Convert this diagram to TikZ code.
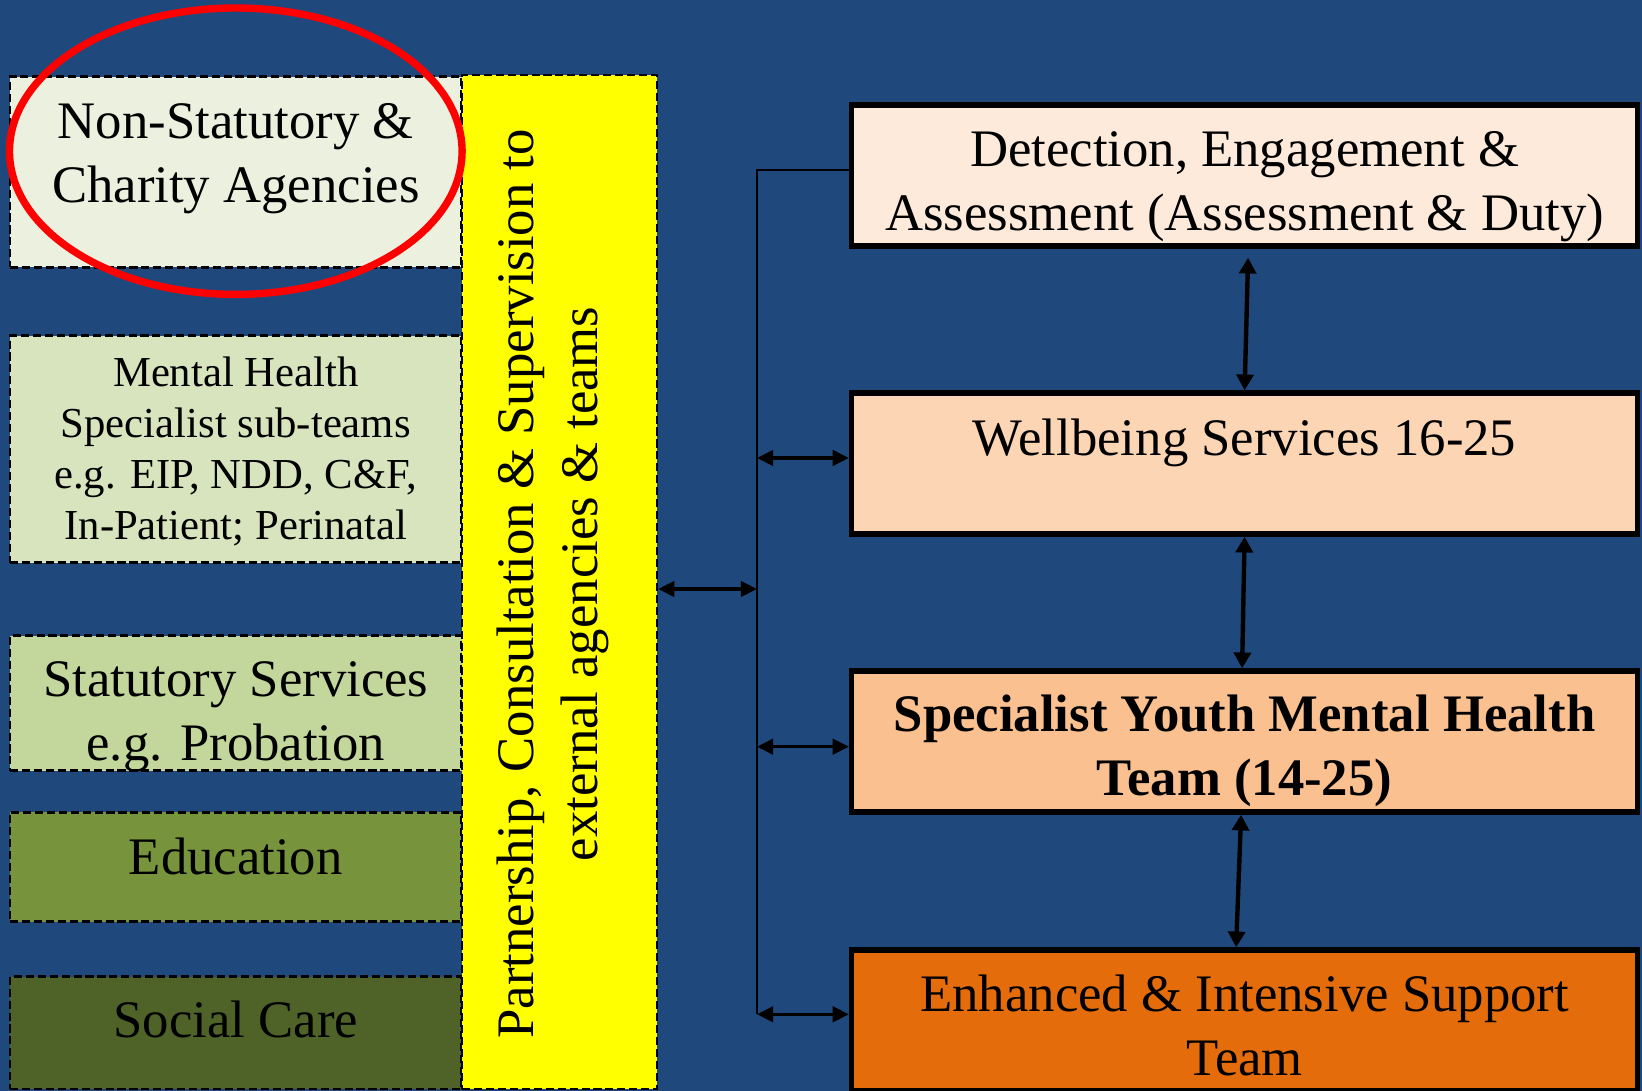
\documentclass[tikz,border=0pt]{standalone}
\usepackage{fontspec}
\setmainfont{Liberation Serif}
\usepackage{tikz}
\usetikzlibrary{arrows.meta}
\definecolor{ymhBack}{HTML}{1F497D}
\definecolor{ymhOliveA}{HTML}{EBF1DE}
\definecolor{ymhOliveB}{HTML}{D7E4BD}
\definecolor{ymhOliveC}{HTML}{C3D69B}
\definecolor{ymhOliveD}{HTML}{77933C}
\definecolor{ymhOliveE}{HTML}{4F6228}
\definecolor{ymhBand}{HTML}{FFFF00}
\definecolor{ymhOrangeA}{HTML}{FDEADA}
\definecolor{ymhOrangeB}{HTML}{FCD5B5}
\definecolor{ymhOrangeC}{HTML}{FAC090}
\definecolor{ymhOrangeD}{HTML}{E46C0A}
\definecolor{ymhRing}{HTML}{FF0000}
\tikzset{
  ymh diagram/.style={font=\fontsize{15}{18.2}\selectfont, text=black},
  ymh agency/.style={draw=black, line width=0.7pt, dash pattern=on 2.3pt off 1.1pt,
    minimum width=4.517cm, inner sep=0pt},
  ymh band/.style={ymh agency, fill=ymhBand, minimum width=1.95cm, minimum height=10.14cm},
  ymh team/.style={draw=black, line width=1.5pt, minimum width=7.862cm,
    minimum height=1.41cm, inner sep=0pt},
  ymh text/.style={align=center, inner sep=0pt},
  ymh small/.style={ymh text, font=\fontsize{12.15}{14.5}\selectfont},
  ymh bold/.style={ymh text, font=\fontsize{15}{18.2}\selectfont\bfseries},
  ymh bus/.style={draw=black, line width=0.65pt},
  ymh link/.style={{Triangle[length=4.6pt,width=4.4pt]}-{Triangle[length=4.6pt,width=4.4pt]},
    draw=black, line width=0.9pt},
  ymh step link/.style={{Triangle[length=4.5pt,width=4.8pt]}-{Triangle[length=4.5pt,width=4.8pt]},
    draw=black, line width=1.25pt},
  ymh ring/.style={draw=ymhRing, line width=2.1pt}
}

\begin{document}
\begin{tikzpicture}[ymh diagram]
\useasboundingbox (0,0) rectangle (16.42,10.91);
\fill[ymhBack] (0,0) rectangle (16.42,10.91);

% agencies down the left
\node[ymh agency, fill=ymhOliveA, minimum height=1.906cm] (nonstat) at (2.358,9.19) {};
\node[ymh text] (nonstat-t) at ([yshift=0.138cm]nonstat.center) {Non-Statutory \&\\Charity Agencies};
\node[ymh agency, fill=ymhOliveB, minimum height=2.27cm] (mh) at (2.358,6.418) {};
\node[ymh small] (mh-t) at ([yshift=-0.026cm]mh.center) {Mental Health\\Specialist sub-teams\\e.g. EIP, NDD, C\&F,\\In-Patient; Perinatal};
\node[ymh agency, fill=ymhOliveC, minimum height=1.35cm] (stat) at (2.358,3.878) {};
\node[ymh text] (stat-t) at ([yshift=-0.131cm]stat.center) {Statutory Services\\e.g. Probation};
\node[ymh agency, fill=ymhOliveD, minimum height=1.094cm] (edu) at (2.358,2.24) {};
\node[ymh text] (edu-t) at ([yshift=0.108cm]edu.center) {Education};
\node[ymh agency, fill=ymhOliveE, minimum height=1.123cm] (care) at (2.358,0.582) {};
\node[ymh text] (care-t) at ([yshift=0.135cm]care.center) {Social Care};

% partnership band
\node[ymh band] (band) at (5.595,5.09) {};
\node[ymh text, rotate=90] (band-t) at ([xshift=-0.068cm,yshift=-0.02cm]band.center)
  {Partnership, Consultation \& Supervision to\\external agencies \& teams};

% service tiers on the right
\node[ymh team, fill=ymhOrangeA] (detect) at (12.446,9.154) {};
\node[ymh text] (detect-t) at ([yshift=-0.107cm]detect.center) {Detection, Engagement \&\\Assessment (Assessment \& Duty)};
\node[ymh team, fill=ymhOrangeB] (well) at (12.446,6.275) {};
\node[ymh text] (well-t) at ([yshift=0.207cm]well.center) {Wellbeing Services 16-25};
\node[ymh team, fill=ymhOrangeC] (spec) at (12.446,3.495) {};
\node[ymh bold] (spec-t) at ([yshift=-0.095cm]spec.center) {Specialist Youth Mental Health\\Team (14-25)};
\node[ymh team, fill=ymhOrangeD] (enh) at (12.446,0.705) {};
\node[ymh text] (enh-t) at ([yshift=-0.045cm]enh.center) {Enhanced \& Intensive Support\\Team};

% trunk between band and tiers
\coordinate (bus top) at (7.57,9.21);
\coordinate (bus end) at (7.57,0.767);
\draw[ymh bus] (bus top -| detect.west) -- (bus top) -- (bus end);
\draw[ymh link] ([yshift=-0.07cm]band.east) -- ([yshift=-0.07cm]band.east -| bus top);
\draw[ymh link] ([yshift=0.055cm]well.west -| bus top) -- ([yshift=0.055cm]well.west);
\draw[ymh link] ([yshift=-0.052cm]spec.west -| bus top) -- ([yshift=-0.052cm]spec.west);
\draw[ymh link] (bus end) -- (bus end -| enh.west);

% steps between tiers
\draw[ymh step link] ([xshift=0.035cm,yshift=-0.09cm]detect.south) -- (well.north);
\draw[ymh step link] (well.south) -- ([xshift=-0.025cm]spec.north);
\draw[ymh step link] ([xshift=-0.035cm]spec.south) -- ([xshift=-0.085cm]enh.north);

% highlight
\draw[ymh ring] ([yshift=0.208cm]nonstat.center) ellipse [x radius=2.263, y radius=1.432];
\end{tikzpicture}
\end{document}
